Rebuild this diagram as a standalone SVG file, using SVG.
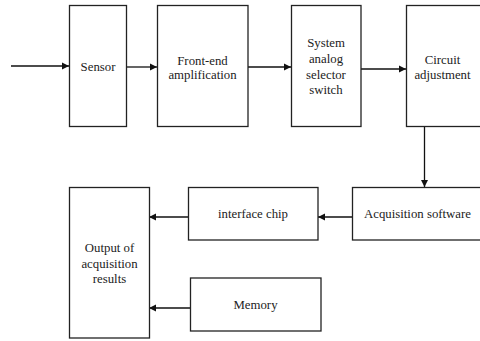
<svg xmlns="http://www.w3.org/2000/svg" width="480" height="341" viewBox="0 0 480 341">
<defs>
<marker id="ah" markerWidth="8" markerHeight="8" refX="7" refY="4" orient="auto" markerUnits="userSpaceOnUse">
<path d="M0,0.5 L7,4 L0,7.5 Z" fill="#111"/>
</marker>
<style>
.box{fill:#fff;stroke:#222;stroke-width:1.3}
text{font-family:'Liberation Serif','Times New Roman',Times,serif;font-size:12.8px;fill:#222;text-anchor:middle}
.con{stroke:#111;stroke-width:1.3;fill:none;marker-end:url(#ah)}
</style>
</defs>
<rect width="480" height="341" fill="#fff"/>
<g id="connectors">
<line class="con" x1="11" y1="66" x2="69" y2="66"/>
<line class="con" x1="126" y1="67" x2="157" y2="67"/>
<line class="con" x1="248" y1="67" x2="291" y2="67"/>
<line class="con" x1="361" y1="69" x2="406" y2="69"/>
<line class="con" x1="424.5" y1="127" x2="424.5" y2="187"/>
<line class="con" x1="352" y1="217" x2="318" y2="217"/>
<line class="con" x1="188" y1="217" x2="149" y2="217"/>
<line class="con" x1="190" y1="308" x2="149" y2="308"/>
</g>
<g font-family="Liberation Serif, serif">
<g id="sensor"><rect class="box" x="69.5" y="5.5" width="57" height="121"/><text x="98" y="71">Sensor</text></g>
<g id="frontend"><rect class="box" x="157.5" y="5.5" width="90.5" height="121"/><text x="202.5" y="65">Front-end</text><text x="202.5" y="79">amplification</text></g>
<g id="selector"><rect class="box" x="291.5" y="5.5" width="69.5" height="121"/><text x="326" y="47">System</text><text x="326" y="63">analog</text><text x="326" y="78.5">selector</text><text x="326" y="94">switch</text></g>
<g id="circuit"><rect class="box" x="406.5" y="5.5" width="80" height="121"/><text x="442.5" y="64">Circuit</text><text x="442.5" y="79">adjustment</text></g>
<g id="acquisition"><rect class="box" x="352.5" y="187.5" width="130" height="52.5"/><text x="417.5" y="218">Acquisition software</text></g>
<g id="interface"><rect class="box" x="188.5" y="187.5" width="129.5" height="52.5"/><text x="253" y="218">interface chip</text></g>
<g id="memory"><rect class="box" x="190.5" y="278" width="130.5" height="53"/><text x="255.5" y="309">Memory</text></g>
<g id="output"><rect class="box" x="69.5" y="187.5" width="80" height="150.5"/><text x="109.5" y="252">Output of</text><text x="109.5" y="267.5">acquisition</text><text x="109.5" y="283">results</text></g>
</g>
</svg>
